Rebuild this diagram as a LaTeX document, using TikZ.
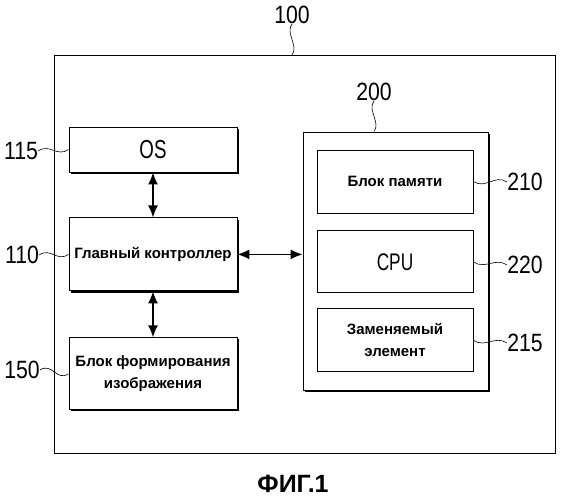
\documentclass[tikz,border=0pt]{standalone}
\usepackage{fontspec}
\setmainfont{Liberation Sans}
\usepackage{graphicx}
\usepackage{tikz}
\usetikzlibrary{arrows.meta}
\usetikzlibrary{positioning}
\usetikzlibrary{shadows}
\tikzset{>={Latex[length=12pt, width=10pt]}}
\newcommand{\refnum}[1]{\scalebox{0.85}[1]{#1}}
\newcommand{\slim}[1]{\scalebox{0.72}[1]{#1}}
\tikzstyle{blk} = [draw = black, line width = 0.9pt, fill = white, inner sep = 0, align = center, font = \fontsize{15}{22}\selectfont\bfseries]
\tikzstyle{shd} = [blk, drop shadow = {shadow xshift = 1.6pt, shadow yshift = -1.6pt, opacity = 1, fill = black}]
\tikzstyle{num} = [draw = none, inner sep = 0, font = \fontsize{25}{25}\selectfont]
\tikzstyle{lead} = [-, line width = 0.6pt]
\tikzstyle{link} = [<->, line width = 1.5pt]

\begin{document}
\begin{tikzpicture}[x = 1pt, y = -1pt]
\useasboundingbox (0, 0) rectangle (561, 499);
% device 100
\node [blk, anchor = north west, minimum width = 501pt, minimum height = 398pt] (sys) at (54, 55) {};
\node [num] (l100) at (292, 15) {\refnum{100}};
\draw [lead] (l100.south) .. controls +(-7, 9) and +(7, -9) .. (l100.south |- sys.north);
% left column
\node [shd, minimum width = 168pt, minimum height = 45pt] (os) at (153, 149.5) {\fontsize{26}{26}\selectfont\mdseries\slim{OS}};
\node [shd, minimum width = 168pt, minimum height = 73pt, below = 45pt of os] (ctrl) {Главный контроллер};
\node [shd, minimum width = 168pt, minimum height = 72pt, below = 46pt of ctrl] (img) {Блок формирования\\изображения};
\node [num] (l115) at (21, 151) {\refnum{115}};
\node [num] (l110) at (22, 255) {\refnum{110}};
\node [num] (l150) at (22, 370) {\refnum{150}};
\draw [lead] (l115.east) .. controls +(12, -8) and +(-12, 8) .. (os.west);
\draw [lead] (l110.east) .. controls +(12, -8) and +(-12, 8) .. (ctrl.west);
\draw [lead] (l150.east) .. controls +(12, -8) and +(-12, 8) .. (img.west);
\draw [link] (os) to (ctrl);
\draw [link] (ctrl) to (img);
% unit 200
\node [shd, minimum width = 185pt, minimum height = 258pt] (unit) at (395.5, 261) {};
\node [num] (l200) at (374, 92) {\refnum{200}};
\draw [lead] (l200.south) .. controls +(-7, 9) and +(7, -9) .. (l200.south |- unit.north);
\node [blk, minimum width = 156pt, minimum height = 63pt] (mem) at (395, 181.5) {Блок памяти};
\node [blk, minimum width = 156pt, minimum height = 62pt, below = 17pt of mem] (cpu) {\fontsize{24}{24}\selectfont\mdseries\slim{CPU}};
\node [blk, minimum width = 156pt, minimum height = 63pt, below = 15pt of cpu] (rep) {Заменяемый\\элемент};
\node [num] (l210) at (525, 182) {\refnum{210}};
\node [num] (l220) at (525, 265) {\refnum{220}};
\node [num] (l215) at (525, 343) {\refnum{215}};
\draw [lead] (mem.east) .. controls +(12, 8) and +(-12, -8) .. (l210.west);
\draw [lead] (cpu.east) .. controls +(12, 8) and +(-12, -8) .. (l220.west);
\draw [lead] (rep.east) .. controls +(12, 8) and +(-12, -8) .. (l215.west);
\draw [link] (ctrl.east) -- (ctrl.east -| unit.west);
% caption
\node [draw = none, font = \fontsize{25}{25}\selectfont\bfseries] (cap) at (293, 484) {ФИГ.1};
\end{tikzpicture}
\end{document}
